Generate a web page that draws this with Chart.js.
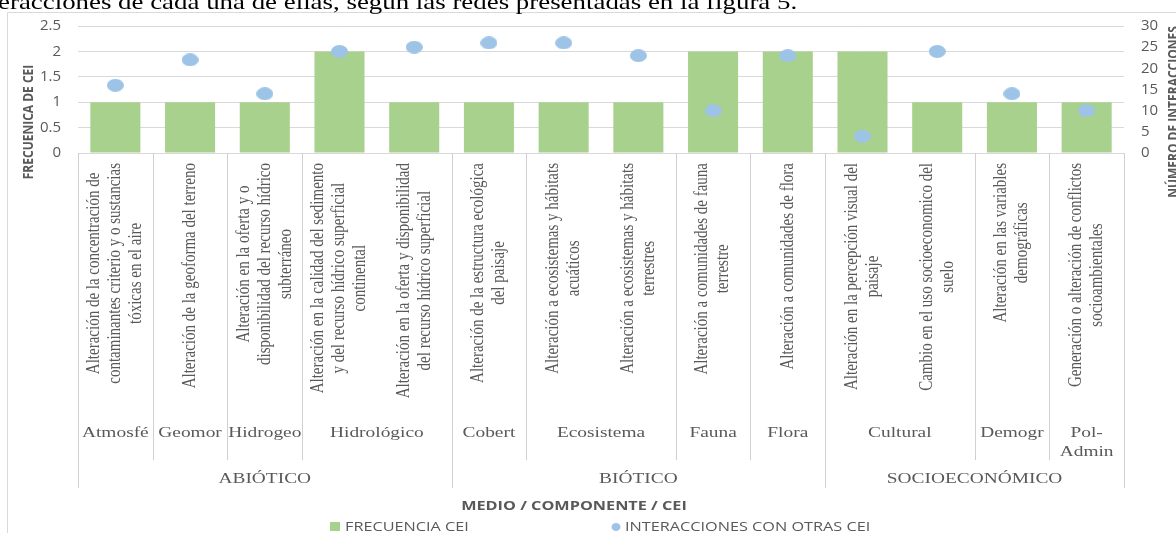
<!DOCTYPE html>
<html>
<head>
<meta charset="utf-8">
<script src="https://cdn.jsdelivr.net/npm/chart.js@4.4.1/dist/chart.umd.min.js"></script>
<style>
  html, body { margin: 0; padding: 0; background: #fff; overflow: hidden; }
</style>
</head>
<body>
<canvas id="chart" width="1176" height="533"></canvas>
<script>
// ================= DATA =================
const docLine = "eracciones de cada una de ellas, según las redes presentadas en la figura 5.";

const ceiLabels = [
  ["Alteración de la concentración de", "contaminantes criterio y o sustancias", "tóxicas en el aire"],
  ["Alteración de la geoforma del terreno"],
  ["Alteración en la oferta y o", "disponibilidad del recurso hídrico", "subterráneo"],
  ["Alteración en la calidad del sedimento", "y del recurso hídrico superficial", "continental"],
  ["Alteración en la oferta y disponibilidad", "del recurso hídrico superficial"],
  ["Alteración de la estructura ecológica", "del paisaje"],
  ["Alteración a ecosistemas y hábitats", "acuáticos"],
  ["Alteración a ecosistemas y hábitats", "terrestres"],
  ["Alteración a comunidades de fauna", "terrestre"],
  ["Alteración a comunidades de flora"],
  ["Alteración en la percepción visual del", "paisaje"],
  ["Cambio en el uso socioeconomico del", "suelo"],
  ["Alteración en las variables", "demográficas"],
  ["Generación o alteración de conflictos", "socioambientales"]
];

const componentes = ["Atmosfé", "Geomor", "Hidrogeo", "Hidrológico", "Cobert", "Ecosistema", "Fauna", "Flora", "Cultural", "Demogr", "Pol-\nAdmin"];
const componenteSpan = [1, 1, 1, 2, 1, 2, 1, 1, 2, 1, 1];

const medios = ["ABIÓTICO", "BIÓTICO", "SOCIOECONÓMICO"];
const medioSpan = [5, 5, 4];

const frecuenciaCEI = [1, 1, 1, 2, 1, 1, 1, 1, 2, 2, 2, 1, 1, 1];
const interacciones = [16, 22, 14, 24, 25, 26, 26, 23, 10, 23, 4, 24, 14, 10];

const leftTitle = "FRECUENICA DE CEI";
const rightTitle = "NÚMERO DE INTERACCIONES";
const xTitle = "MEDIO / COMPONENTE / CEI";
const legendNames = ["FRECUENCIA CEI", "INTERACCIONES CON OTRAS CEI"];

// ================= STYLE =================
const GREEN = "#A9D18E";
const BLUE = "#9DC3E6";
const GRAY = "#595959";
const LINE = "#D0D0D0";
const SX = 1.25; // the source picture is stretched sideways
const SANS = "'Open Sans', sans-serif";
const SERIF = "'Liberation Serif', serif";

Chart.defaults.font.family = SANS;
Chart.defaults.color = GRAY;

function ellipseDot(w, h, color) {
  const c = document.createElement("canvas");
  c.width = w; c.height = h;
  const g = c.getContext("2d");
  g.fillStyle = color;
  g.beginPath();
  g.ellipse(w / 2, h / 2, w / 2, h / 2, 0, 0, Math.PI * 2);
  g.fill();
  return c;
}

function hText(ctx, text, x, y, align) {
  ctx.save();
  ctx.translate(x, y);
  ctx.scale(SX, 1);
  ctx.textAlign = align;
  ctx.fillText(text, 0, 0);
  ctx.restore();
}

function vText(ctx, text, x, y) {
  ctx.save();
  ctx.translate(x, y);
  ctx.scale(SX, 1);
  ctx.rotate(-Math.PI / 2);
  ctx.textAlign = "center";
  ctx.textBaseline = "middle";
  ctx.fillText(text, 0, 0);
  ctx.restore();
}

function vLine(ctx, x, y0, y1) {
  ctx.beginPath();
  ctx.moveTo(Math.round(x) + 0.5, y0);
  ctx.lineTo(Math.round(x) + 0.5, y1);
  ctx.stroke();
}

// ================= DECORATION PLUGIN =================
const decor = {
  id: "decor",
  beforeDraw(chart) {
    const ctx = chart.ctx;
    ctx.save();
    ctx.strokeStyle = "#D9D9D9";
    ctx.lineWidth = 1;
    ctx.beginPath();
    ctx.moveTo(7.5, 533);
    ctx.lineTo(7.5, 12.5);
    ctx.lineTo(1176, 12.5);
    ctx.stroke();

    // line of the document text cut by the chart frame
    ctx.fillStyle = "#000";
    ctx.font = "21.5px " + SERIF;
    ctx.textBaseline = "alphabetic";
    hText(ctx, docLine, -2, 9, "left");
    ctx.restore();
  },
  afterDraw(chart) {
    const ctx = chart.ctx;
    const xs = chart.scales.x;
    const base = chart.chartArea.bottom;
    const edge = k => xs.getPixelForValue(k - 0.5);

    ctx.save();
    ctx.strokeStyle = LINE;
    ctx.lineWidth = 1;

    // CEI labels (rotated, top aligned, lines centred)
    ctx.fillStyle = GRAY;
    ctx.font = "15px " + SERIF;
    ceiLabels.forEach((lines, i) => {
      const cx = xs.getPixelForValue(i);
      const maxW = Math.max(...lines.map(l => ctx.measureText(l).width));
      const yc = base + 10 + maxW / 2;
      lines.forEach((line, j) => {
        vText(ctx, line, cx + (j - (lines.length - 1) / 2) * 21, yc);
      });
    });

    // component row
    ctx.font = "15.5px " + SERIF;
    ctx.textBaseline = "middle";
    let k = 0;
    componentes.forEach((name, i) => {
      const l = edge(k), r = edge(k + componenteSpan[i]);
      vLine(ctx, l, base, 460);
      name.split("\n").forEach((part, j) => hText(ctx, part, (l + r) / 2, 433 + j * 19, "center"));
      k += componenteSpan[i];
    });

    // medio row
    k = 0;
    medios.forEach((name, i) => {
      const l = edge(k), r = edge(k + medioSpan[i]);
      vLine(ctx, l, base, 488);
      hText(ctx, name, (l + r) / 2, 479, "center");
      k += medioSpan[i];
    });
    vLine(ctx, edge(k), base, 488);

    // axis titles
    ctx.font = "bold 13px " + SANS;
    hText(ctx, xTitle, 574, 506, "center");
    ctx.font = "bold 12px " + SANS;
    vText(ctx, leftTitle, 29, 122);
    vText(ctx, rightTitle, 1174, 112);

    // legend
    ctx.font = "13px " + SANS;
    ctx.fillStyle = GREEN;
    ctx.fillRect(330, 522, 10, 9);
    ctx.fillStyle = GRAY;
    hText(ctx, legendNames[0], 345, 527, "left");
    ctx.fillStyle = BLUE;
    ctx.beginPath();
    ctx.ellipse(616, 527, 4.5, 4, 0, 0, Math.PI * 2);
    ctx.fill();
    ctx.fillStyle = GRAY;
    hText(ctx, legendNames[1], 625, 527, "left");

    ctx.restore();
  }
};

// ================= CHART =================
const ctx = document.getElementById("chart").getContext("2d");
new Chart(ctx, {
  data: {
    labels: ceiLabels.map(l => l.join(" ")),
    datasets: [
      {
        type: "bar",
        label: legendNames[0],
        data: frecuenciaCEI,
        yAxisID: "y",
        backgroundColor: GREEN,
        barPercentage: 0.67,
        categoryPercentage: 1,
        order: 2
      },
      {
        type: "line",
        label: legendNames[1],
        data: interacciones,
        yAxisID: "y1",
        showLine: false,
        pointStyle: ellipseDot(17, 13, BLUE),
        pointRadius: 8,
        order: 1
      }
    ]
  },
  options: {
    responsive: false,
    animation: false,
    layout: { padding: { top: 21, left: 0, right: 0, bottom: 0 } },
    plugins: {
      legend: { display: false },
      tooltip: { enabled: false }
    },
    scales: {
      x: {
        type: "category",
        ticks: { display: false },
        grid: { display: false },
        border: { display: false },
        afterFit: s => { s.height = 380; }
      },
      y: {
        position: "left",
        min: 0,
        max: 2.5,
        ticks: { stepSize: 0.5, padding: 17, font: { size: 15 }, color: GRAY, callback: v => String(v) },
        grid: { color: "#D9D9D9", drawTicks: false },
        border: { display: false },
        afterFit: s => { s.width = 78; }
      },
      y1: {
        position: "right",
        min: 0,
        max: 30,
        ticks: { stepSize: 5, padding: 17, font: { size: 15 }, color: GRAY, callback: v => String(v) },
        grid: { display: false, drawTicks: false },
        border: { display: false },
        afterFit: s => { s.width = 52; }
      }
    }
  },
  plugins: [decor]
});
</script>
</body>
</html>
